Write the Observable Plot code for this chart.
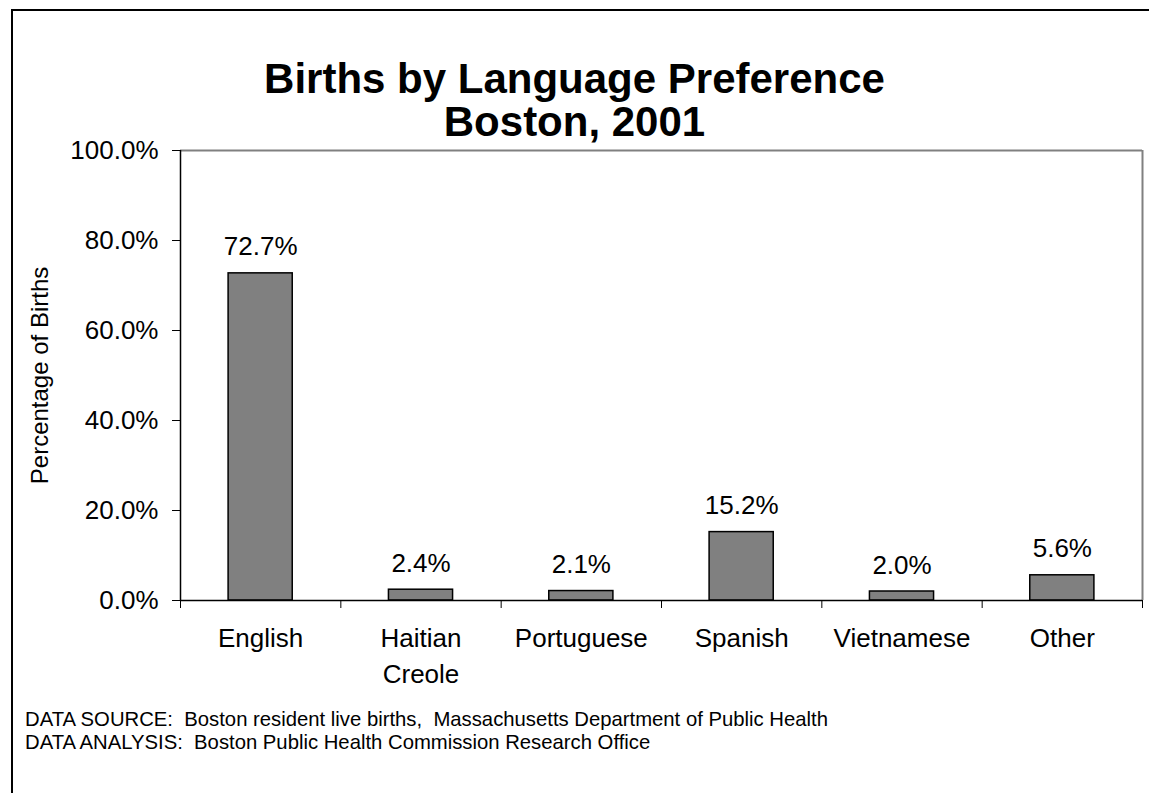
<!DOCTYPE html>
<html>
<head>
<meta charset="utf-8">
<script src="https://cdn.jsdelivr.net/npm/d3@7"></script>
<script src="https://cdn.jsdelivr.net/npm/@observablehq/plot@0.6"></script>
<style>
  html, body { margin: 0; padding: 0; background: #fff; overflow: hidden; }
  #wrap { position: relative; width: 1149px; height: 793px; overflow: hidden; font-family: "Liberation Sans", Arial, sans-serif; color: #000; }
  #frame { position: absolute; left: 11px; top: 9px; width: 1200px; height: 900px; border: 2px solid #000; box-sizing: border-box; }
  #title { position: absolute; left: 0; top: 57px; width: 1149px; text-align: center; font-size: 42px; line-height: 43px; font-weight: bold; }
  #footer { position: absolute; left: 25px; top: 708px; font-size: 20.3px; line-height: 23px; white-space: pre; }
  #chart { position: absolute; left: 0; top: 0; }
</style>
</head>
<body>
<div id="wrap">
  <div id="frame"></div>
  <div id="chart"></div>
  <div id="title"></div>
  <div id="footer"></div>
</div>
<script>
const titleLines = ["Births by Language Preference", "Boston, 2001"];
const categories = ["English", "Haitian\nCreole", "Portuguese", "Spanish", "Vietnamese", "Other"];
const percentages = [72.7, 2.4, 2.1, 15.2, 2.0, 5.6];
const yTicks = [0, 20, 40, 60, 80, 100];
const yLabel = "Percentage of Births";
const footerLines = [
  "DATA SOURCE:  Boston resident live births,  Massachusetts Department of Public Health",
  "DATA ANALYSIS:  Boston Public Health Commission Research Office"
];

document.getElementById("title").innerHTML = titleLines.join("<br>");
document.getElementById("footer").textContent = footerLines.join("\n");

const data = categories.map((c, i) => ({category: c, index: i, value: percentages[i]}));
const boundaries = d3.range(categories.length + 1);

const chart = Plot.plot({
  width: 1149,
  height: 793,
  marginLeft: 180,
  marginRight: 7,
  marginTop: 150,
  marginBottom: 193,
  style: {fontFamily: "'Liberation Sans', Arial, sans-serif", color: "#000", background: "transparent", overflow: "visible"},
  x: {type: "linear", domain: [0, categories.length], axis: null},
  y: {domain: [0, 100], axis: null},
  marks: [
    Plot.ruleY([100], {stroke: "#808080", strokeWidth: 2}),
    Plot.ruleX([categories.length], {stroke: "#808080", strokeWidth: 2}),
    Plot.rectY(data, {x1: d => d.index + 0.3, x2: d => d.index + 0.7, y: "value", fill: "#808080", stroke: "#000", strokeWidth: 1.5}),
    Plot.text(data, {x: d => d.index + 0.5, y: "value", text: d => d.value.toFixed(1) + "%", lineAnchor: "bottom", dy: -18, fontSize: 26, fill: "#000"}),
    Plot.axisY({ticks: yTicks, tickFormat: d => d.toFixed(1) + "%", tickSize: 8, tickPadding: 14, fontSize: 26, label: null, stroke: "#000"}),
    Plot.axisX({ticks: boundaries, tickFormat: () => "", tickSize: 8, label: null, stroke: "#000"}),
    Plot.text(data, {x: d => d.index + 0.5, frameAnchor: "bottom", text: "category", lineAnchor: "top", dy: 22, fontSize: 26, lineHeight: 1.35, fill: "#000"}),
    Plot.ruleY([0], {stroke: "#000", strokeWidth: 1.5}),
    Plot.ruleX([0], {stroke: "#000", strokeWidth: 1.5}),
    Plot.text([yLabel], {text: d => d, frameAnchor: "left", textAnchor: "middle", rotate: -90, dx: -140, fontSize: 24, fill: "#000"})
  ]
});
document.getElementById("chart").appendChild(chart);
</script>
</body>
</html>
